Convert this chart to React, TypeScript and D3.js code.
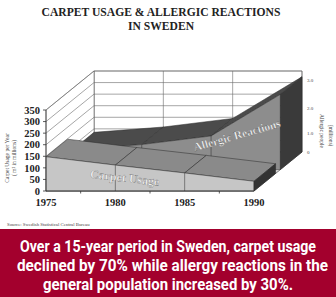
import React, { useLayoutEffect, useRef, useState } from "react";
import * as d3 from "d3";

const years = [1975, 1980, 1985, 1990];
const carpetUsage = [148, 112, 78, 42]; // m² in millions
const allergicPeople = [0.85, 1.08, 1.45, 3.25]; // millions
const leftTicks = [0, 50, 100, 150, 200, 250, 300, 350];
const rightTicks = [0, 1.0, 2.0, 3.0];
const rightTickPos = [0, 0.82, 1.9, 3.1]; // where printed labels sit (in millions)
const minorTicks = [1977.5, 1982.5, 1987.5];
const bannerLines = [
  "Over a 15-year period in Sweden, carpet usage",
  "declined by 70% while allergy reactions in the",
  "general population increased by 30%.",
];
const bannerWidths = [296, 311, 250];
const bannerCenters = [168, 172.5, 168];

const W = 336, H = 297;
const serif = "'Liberation Serif', 'DejaVu Serif', serif";

function BannerLine({ text, cx, y, width }: { text: string; cx: number; y: number; width: number }) {
  const ref = useRef<SVGTextElement>(null);
  const [s, setS] = useState(0.78);
  useLayoutEffect(() => {
    if (ref.current) {
      const w = ref.current.getComputedTextLength();
      if (w > 0) setS(width / w);
    }
  }, [text, width]);
  return (
    <g transform={`translate(${cx},${y}) scale(${s},1)`}>
      <text ref={ref} x={0} y={0} textAnchor="middle" fontFamily="Roboto, sans-serif" fontWeight="bold" fontSize={16.5} fill="#fff">{text}</text>
    </g>
  );
}

export default function App() {
  const x = d3.scaleLinear().domain([1975, 1990]).range([46, 254]);
  const y = d3.scaleLinear().domain([0, 350]).range([191, 110]);
  const DX = 48, DY = -39;
  const P = (yr: number, v: number, z: number): [number, number] => [x(yr) + DX * z, y(v) + DY * z];
  const poly = (pts: [number, number][]) => pts.map(p => p.join(",")).join(" ");
  const allerUnits = allergicPeople.map(v => v * 100);
  const yRightBack = (m: number) => y(m * 100) + DY;

  const cZ0 = 0, cZ1 = 0.45, aZ0 = 0.55, aZ1 = 1;
  const gridStroke = "#6a6a6a";
  const edge = "#2a2a2a";

  const series = (vals: number[], z0: number, z1: number, topFill: string, frontFill: string, sideFill: string, key: string) => {
    const els: JSX.Element[] = [];
    for (let i = 0; i < years.length - 1; i++) {
      els.push(
        <polygon key={key + "t" + i}
          points={poly([P(years[i], vals[i], z0), P(years[i + 1], vals[i + 1], z0), P(years[i + 1], vals[i + 1], z1), P(years[i], vals[i], z1)])}
          fill={topFill} stroke={edge} strokeWidth={0.5} strokeLinejoin="round" />
      );
    }
    const front: [number, number][] = [P(years[0], 0, z0), ...years.map((yr, i) => P(yr, vals[i], z0)), P(years[years.length - 1], 0, z0)];
    els.push(<polygon key={key + "f"} points={poly(front)} fill={frontFill} stroke={edge} strokeWidth={0.5} />);
    for (let i = 1; i < years.length - 1; i++) {
      const a = P(years[i], 0, z0), b = P(years[i], vals[i], z0);
      els.push(<line key={key + "v" + i} x1={a[0]} y1={a[1]} x2={b[0]} y2={b[1]} stroke={edge} strokeWidth={0.5} />);
    }
    const n = years.length - 1;
    els.push(
      <polygon key={key + "s"}
        points={poly([P(years[n], 0, z0), P(years[n], vals[n], z0), P(years[n], vals[n], z1), P(years[n], 0, z1)])}
        fill={sideFill} stroke={edge} strokeWidth={0.5} />
    );
    return els;
  };

  const cMid = (carpetUsage[0] + carpetUsage[2]) / 2;
  const cA = P(1978, 0, 0), cB = P(1983, 0, 0);
  const carpetAngle = Math.atan2(y(carpetUsage[2]) - y(carpetUsage[0]), x(1985) - x(1975)) * 180 / Math.PI;

  return (
    <svg width={W} height={H} style={{ position: "absolute", left: 0, top: 0, background: "#fff" }}>
      <rect width={W} height={H} fill="#fff" />
      <text x={161} y={15.5} textAnchor="middle" fontFamily={serif} fontWeight="bold" fontSize={11.6} fill="#222">CARPET USAGE &amp; ALLERGIC REACTIONS</text>
      <text x={161} y={29.5} textAnchor="middle" fontFamily={serif} fontWeight="bold" fontSize={11.6} fill="#222">IN SWEDEN</text>

      {/* back wall */}
      <polygon points={poly([P(1975, 0, 1), P(1975, 350, 1), P(1990, 350, 1), P(1990, 0, 1)])} fill="#fff" stroke={gridStroke} strokeWidth={0.6} />
      {leftTicks.map(t => {
        const a = P(1975, t, 1), b = P(1990, t, 1);
        return <line key={"bh" + t} x1={a[0]} y1={a[1]} x2={b[0]} y2={b[1]} stroke={gridStroke} strokeWidth={0.6} />;
      })}
      {years.map(yr => {
        const a = P(yr, 0, 1), b = P(yr, 350, 1);
        return <line key={"bv" + yr} x1={a[0]} y1={a[1]} x2={b[0]} y2={b[1]} stroke={gridStroke} strokeWidth={0.6} />;
      })}
      {/* side wall */}
      <polygon points={poly([P(1975, 0, 0), P(1975, 350, 0), P(1975, 350, 1), P(1975, 0, 1)])} fill="#fff" stroke={gridStroke} strokeWidth={0.6} />
      {leftTicks.map(t => {
        const a = P(1975, t, 0), b = P(1975, t, 1);
        return <line key={"sh" + t} x1={a[0]} y1={a[1]} x2={b[0]} y2={b[1]} stroke={gridStroke} strokeWidth={0.6} />;
      })}
      {/* floor */}
      <polygon points={poly([P(1975, 0, 0), P(1990, 0, 0), P(1990, 0, 1), P(1975, 0, 1)])} fill="#d8d8d8" stroke={edge} strokeWidth={0.6} />

      {series(allerUnits, aZ0, aZ1, "#4b4b4b", "#8d8d8d", "#3a3a3a", "a")}
      {series(carpetUsage, cZ0, cZ1, "#8a8a8a", "#c6c6c6", "#333", "c")}

      {/* front axes */}
      <line x1={x(1975)} y1={y(0)} x2={x(1975)} y2={y(350)} stroke="#333" strokeWidth={0.8} />
      <line x1={x(1975)} y1={y(0)} x2={x(1990)} y2={y(0)} stroke="#333" strokeWidth={0.8} />
      {leftTicks.map(t => (
        <g key={"lt" + t}>
          <line x1={x(1975) - 3} x2={x(1975)} y1={y(t)} y2={y(t)} stroke="#333" strokeWidth={0.8} />
          <text x={40} y={y(t)} dy="0.35em" textAnchor="end" fontFamily={serif} fontWeight="bold" fontSize={10.5} fill="#222">{t}</text>
        </g>
      ))}
      {minorTicks.map(t => (
        <line key={"mt" + t} x1={x(t)} x2={x(t)} y1={y(0)} y2={y(0) + 2.5} stroke="#333" strokeWidth={0.8} />
      ))}
      {years.map(yr => (
        <text key={"xl" + yr} x={x(yr)} y={206} textAnchor="middle" fontFamily={serif} fontWeight="bold" fontSize={10.5} fill="#222">{yr}</text>
      ))}

      <text transform={`translate(9,158) rotate(-90)`} textAnchor="middle" fontFamily={serif} fontSize={5.5} fill="#444">Carpet Usage per Year</text>
      <text transform={`translate(15.5,158) rotate(-90)`} textAnchor="middle" fontFamily={serif} fontSize={5.5} fill="#444">( m² in  millions)</text>

      {rightTicks.map((t, i) => (
        <text key={"rt" + t} x={307} y={yRightBack(rightTickPos[i])} dy="0.35em" fontFamily={serif} fontSize={5} fill="#444">{t === 0 ? "0" : t.toFixed(1)}</text>
      ))}
      <text transform={`translate(320,131) rotate(90)`} textAnchor="middle" fontFamily={serif} fontSize={5.5} fill="#444">Allergic people</text>
      <text transform={`translate(329,135.5) rotate(90)`} textAnchor="middle" fontFamily={serif} fontSize={5.5} fill="#444">(millions)</text>

      <text transform={`translate(${(cA[0] + cB[0]) / 2 + 2},${y(cMid) + 17}) rotate(${carpetAngle})`} textAnchor="middle"
        fontFamily={serif} fontWeight="bold" fontSize={12} fill="#f8f8f8" stroke="#777" strokeWidth={0.35}>Carpet Usage</text>
      <text transform={`translate(238,139) rotate(-16)`} textAnchor="middle"
        fontFamily={serif} fontWeight="bold" fontSize={11.5} fill="#f4f4f4" stroke="#555" strokeWidth={0.3}>Allergic Reactions</text>

      <text x={7} y={226} fontFamily={serif} fontSize={4.8} fill="#444">Source:   Swedish Statistical Central Bureau</text>

      <rect x={0} y={229} width={W} height={H - 229} fill="#a3002d" />
      {bannerLines.map((t, i) => (
        <BannerLine key={"bl" + i} text={t} cx={bannerCenters[i]} y={252 + i * 19} width={bannerWidths[i]} />
      ))}
    </svg>
  );
}
